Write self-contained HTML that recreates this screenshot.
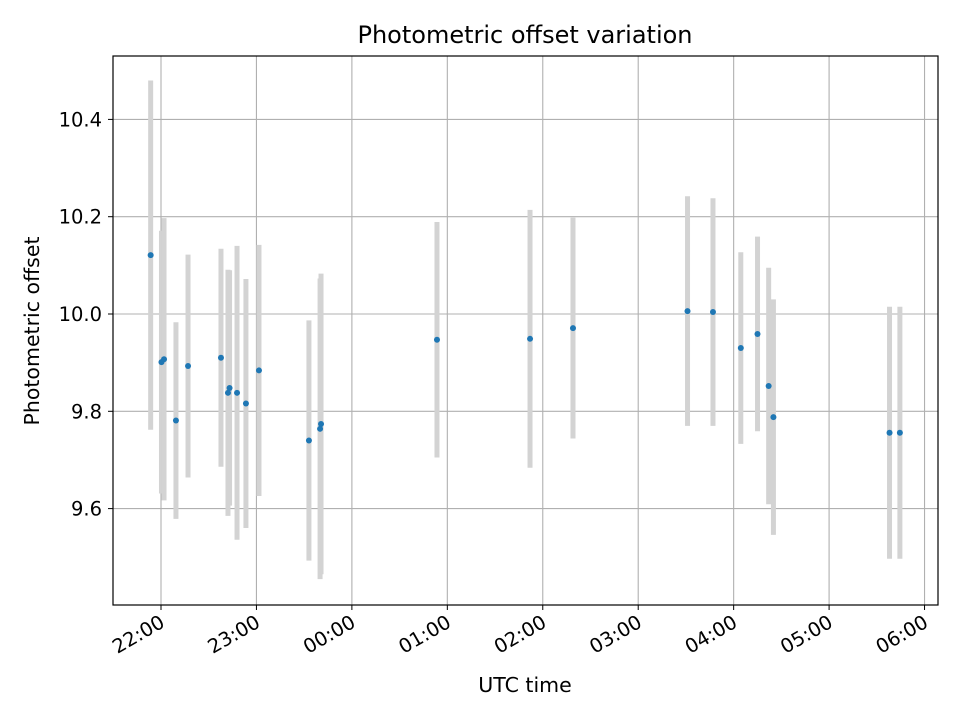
<!DOCTYPE html>
<html><head><meta charset="utf-8"><style>
body{margin:0;background:#fff;font-family:"Liberation Sans","DejaVu Sans",sans-serif}
</style></head><body>
<svg id="chart" width="960" height="720" xmlns="http://www.w3.org/2000/svg" style="font-family:'DejaVu Sans','Liberation Sans',sans-serif">
<rect width="960" height="720" fill="#fff"/>
<g id="grid"></g>
<g id="errs"></g>
<g id="pts"></g>
<rect x="113" y="56" width="825" height="549" fill="none" stroke="#000" stroke-width="1.2"/>
<g id="ticks"></g>
<text x="525" y="43" text-anchor="middle" font-size="24">Photometric offset variation</text>
<text x="525" y="692" text-anchor="middle" font-size="20.5">UTC time</text>
<text transform="translate(39,331) rotate(-90)" text-anchor="middle" font-size="20.5">Photometric offset</text>
</svg>
<script>
const minutes=[-6.5,0.3,1.9,9.4,17,37.7,42.1,43.1,47.8,53.4,61.6,93,100,100.6,173.5,232,259,331,347,364.5,375,382,385,458,464.5];
const values=[10.121,9.901,9.907,9.781,9.893,9.910,9.838,9.848,9.838,9.816,9.884,9.740,9.764,9.774,9.947,9.949,9.971,10.006,10.004,9.930,9.959,9.852,9.788,9.756,9.756];
const errors=[0.359,0.270,0.290,0.202,0.229,0.224,0.253,0.242,0.302,0.256,0.258,0.247,0.309,0.309,0.242,0.265,0.227,0.236,0.234,0.197,0.200,0.243,0.242,0.259,0.259];
const xTickMin=[0,60,120,180,240,300,360,420,480];
const xTickLabels=["22:00","23:00","00:00","01:00","02:00","03:00","04:00","05:00","06:00"];
const yTicks=[9.6,9.8,10.0,10.2,10.4];
const yTickLabels=["9.6","9.8","10.0","10.2","10.4"];
const NS="http://www.w3.org/2000/svg";
const X=m=>161+m*1.5907;
const Y=v=>314-(v-10)*486.5;
function mk(p,t,a){const e=document.createElementNS(NS,t);for(const k in a)e.setAttribute(k,a[k]);p.appendChild(e);return e;}
const grid=document.getElementById('grid'),ticks=document.getElementById('ticks'),errs=document.getElementById('errs'),pts=document.getElementById('pts');
xTickMin.forEach((m,i)=>{
 const x=X(m);
 const g=mk(grid,'line',{x1:x,x2:x,y1:56,y2:605,stroke:'#b0b0b0','stroke-width':1.1});
 
 
 const t=mk(ticks,'line',{x1:x,x2:x,y1:605,y2:610,stroke:'#000','stroke-width':1});
 
 
 const l=mk(ticks,'text',{transform:`translate(${x+5},${626}) rotate(-30)`,'text-anchor':'end','font-size':19.5});
 l.textContent=xTickLabels[i];
 
 
});
yTicks.forEach((v,i)=>{
 const y=Y(v);
 const g=mk(grid,'line',{x1:113,x2:938,y1:y,y2:y,stroke:'#b0b0b0','stroke-width':1.1});
 
 
 const t=mk(ticks,'line',{x1:108,x2:113,y1:y,y2:y,stroke:'#000','stroke-width':1});
 
 
 const l=mk(ticks,'text',{x:102,y:y+7,'text-anchor':'end','font-size':19.5});
 l.textContent=yTickLabels[i];
 
 
});
minutes.forEach((m,i)=>{
 const x=X(m);
 const b=mk(errs,'line',{x1:x,x2:x,y1:Y(values[i]+errors[i]),y2:Y(values[i]-errors[i]),stroke:'#d3d3d3','stroke-width':5});
 
 
});
minutes.forEach((m,i)=>{
 const c=mk(pts,'circle',{cx:X(m),cy:Y(values[i]),r:3,fill:'#1f77b4'});
 
 
});
</script>
</body></html>
